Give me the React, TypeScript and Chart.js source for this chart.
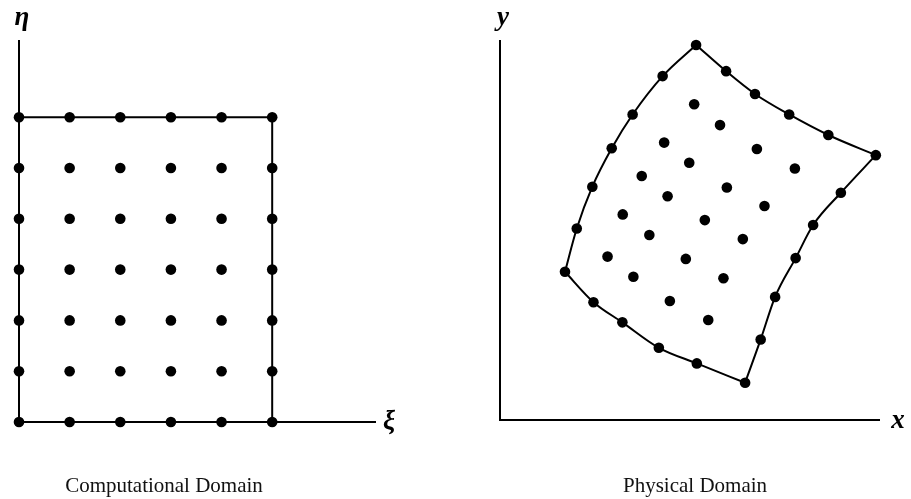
import React, { useEffect, useRef } from "react";
import { Chart, registerables } from "chart.js";

Chart.register(...registerables);

// ---- Computational domain (index space) ----
const xiNodes = [0, 1, 2, 3, 4, 5];
const etaNodes = [0, 1, 2, 3, 4, 5, 6];
const xiAxisMax = 7.05;
const etaAxisMax = 7.52;

// ---- Physical domain: node coordinates, row j = eta index, column i = xi index ----
const physX = [
  [1.71, 2.46, 3.22, 4.18, 5.18, 6.45],
  [2.02, 2.83, 3.51, 4.47, 5.48, 6.86],
  [2.43, 3.23, 3.93, 4.89, 5.88, 7.24],
  [2.94, 3.73, 4.41, 5.39, 6.39, 7.78],
  [3.49, 4.32, 4.98, 5.97, 6.96, 8.24],
  [4.28, 5.11, 5.79, 6.76, 7.76, 8.97],
  [5.16, 5.95, 6.71, 7.61, 8.64, 9.89],
];
const physY = [
  [3.9, 3.1, 2.57, 1.9, 1.49, 0.98],
  [5.04, 4.3, 3.77, 3.13, 2.63, 2.12],
  [6.14, 5.41, 4.87, 4.24, 3.73, 3.24],
  [7.15, 6.42, 5.89, 5.26, 4.76, 4.26],
  [8.04, 7.3, 6.77, 6.12, 5.63, 5.13],
  [9.05, 8.31, 7.76, 7.13, 6.62, 5.98],
  [9.87, 9.18, 8.58, 8.04, 7.5, 6.97],
];
const physAxisMax = 10;

const captions = ["Computational Domain", "Physical Domain"];
const axisNamesLeft = ["ξ", "η"];
const axisNamesRight = ["x", "y"];

type Pt = { x: number; y: number };

const INK = "#000";
const LABEL_FONT = "bold italic 27px 'Liberation Serif', 'DejaVu Serif', serif";
const CAPTION_FONT = "21px 'Liberation Serif', 'DejaVu Serif', serif";

const axesPlugin = {
  id: "domainAxes",
  beforeDatasetsDraw(chart: any, _args: any, opts: any) {
    const { ctx, chartArea, scales } = chart;
    const ox = scales.x.getPixelForValue(0);
    const oy = scales.y.getPixelForValue(0);
    ctx.save();
    ctx.strokeStyle = INK;
    ctx.lineWidth = 2;
    ctx.lineCap = "butt";
    ctx.beginPath();
    ctx.moveTo(ox, chartArea.top);
    ctx.lineTo(ox, oy);
    ctx.lineTo(chartArea.right, oy);
    ctx.stroke();
    ctx.restore();
  },
  afterDraw(chart: any, _args: any, opts: any) {
    const { ctx, chartArea, scales, width } = chart;
    const ox = scales.x.getPixelForValue(0);
    const oy = scales.y.getPixelForValue(0);
    ctx.save();
    ctx.fillStyle = INK;
    ctx.font = LABEL_FONT;
    ctx.textAlign = "center";
    ctx.textBaseline = "alphabetic";
    ctx.fillText(opts.names[0], chartArea.right + opts.xLabelDx, oy + opts.xLabelDy);
    ctx.fillText(opts.names[1], ox + 3, chartArea.top - 15);
    ctx.font = CAPTION_FONT;
    ctx.fillStyle = "#111";
    ctx.fillText(opts.caption, width * opts.captionFrac, oy + opts.captionDy);
    ctx.restore();
  },
};

function gridPointsComputational(): Pt[] {
  const pts: Pt[] = [];
  for (const e of etaNodes) for (const x of xiNodes) pts.push({ x, y: e });
  return pts;
}

function gridPointsPhysical(): Pt[] {
  const pts: Pt[] = [];
  physX.forEach((row, j) => row.forEach((x, i) => pts.push({ x, y: physY[j][i] })));
  return pts;
}

function physEdges(): Pt[][] {
  const last = physX.length - 1;
  const lastI = physX[0].length - 1;
  const left = physX.map((row, j) => ({ x: row[0], y: physY[j][0] }));
  const right = physX.map((row, j) => ({ x: row[lastI], y: physY[j][lastI] }));
  const bottom = physX[0].map((x, i) => ({ x, y: physY[0][i] }));
  const top = physX[last].map((x, i) => ({ x, y: physY[last][i] }));
  return [left, right, bottom, top];
}

function lineDs(data: Pt[], smooth: boolean) {
  return {
    type: "scatter" as const,
    data,
    showLine: true,
    borderColor: INK,
    borderWidth: 2,
    pointRadius: 0,
    tension: smooth ? 0.4 : 0,
    cubicInterpolationMode: smooth ? "monotone" : "default",
    clip: false,
    order: 2,
  };
}

function pointDs(data: Pt[]) {
  return {
    type: "scatter" as const,
    data,
    showLine: false,
    backgroundColor: INK,
    borderColor: INK,
    borderWidth: 0,
    pointRadius: 5.3,
    clip: false,
    order: 1,
  };
}

function baseOptions(padding: any, xMax: number, yMax: number, plug: any) {
  return {
    animation: false,
    responsive: false,
    events: [],
    layout: { padding },
    plugins: {
      legend: { display: false },
      tooltip: { enabled: false },
      domainAxes: plug,
    },
    scales: {
      x: { type: "linear", min: 0, max: xMax, display: false },
      y: { type: "linear", min: 0, max: yMax, display: false },
    },
  };
}

function Panel(props: { kind: "comp" | "phys"; left: number; width: number }) {
  const ref = useRef<HTMLCanvasElement | null>(null);
  useEffect(() => {
    if (!ref.current) return;
    let config: any;
    if (props.kind === "comp") {
      const xiLast = xiNodes[xiNodes.length - 1];
      const etaLast = etaNodes[etaNodes.length - 1];
      const boundary: Pt[] = [
        { x: xiNodes[0], y: etaLast },
        { x: xiLast, y: etaLast },
        { x: xiLast, y: etaNodes[0] },
      ];
      config = {
        type: "scatter",
        data: { datasets: [lineDs(boundary, false), pointDs(gridPointsComputational())] },
        options: baseOptions(
          { left: 19, top: 40, right: 79, bottom: 77 },
          xiAxisMax,
          etaAxisMax,
          { names: axisNamesLeft, caption: captions[0], captionFrac: 164 / 455, captionDy: 70, xLabelDx: 13, xLabelDy: 7 }
        ),
        plugins: [axesPlugin],
      };
    } else {
      const edges = physEdges();
      config = {
        type: "scatter",
        data: {
          datasets: [...edges.map((e) => lineDs(e, true)), pointDs(gridPointsPhysical())],
        },
        options: baseOptions(
          { left: 45, top: 40, right: 31, bottom: 79 },
          physAxisMax,
          physAxisMax,
          { names: axisNamesRight, caption: captions[1], captionFrac: (695 - 455) / 456, captionDy: 72, xLabelDx: 18, xLabelDy: 8 }
        ),
        plugins: [axesPlugin],
      };
    }
    const chart = new Chart(ref.current, config);
    return () => chart.destroy();
  }, [props.kind]);
  return (
    <canvas
      ref={ref}
      width={props.width}
      height={499}
      style={{ position: "absolute", left: props.left, top: 0, width: props.width, height: 499 }}
    />
  );
}

export default function App() {
  return (
    <div style={{ position: "fixed", left: 0, top: 0, width: 911, height: 499, background: "#fff" }}>
      <Panel kind="comp" left={0} width={455} />
      <Panel kind="phys" left={455} width={456} />
    </div>
  );
}
